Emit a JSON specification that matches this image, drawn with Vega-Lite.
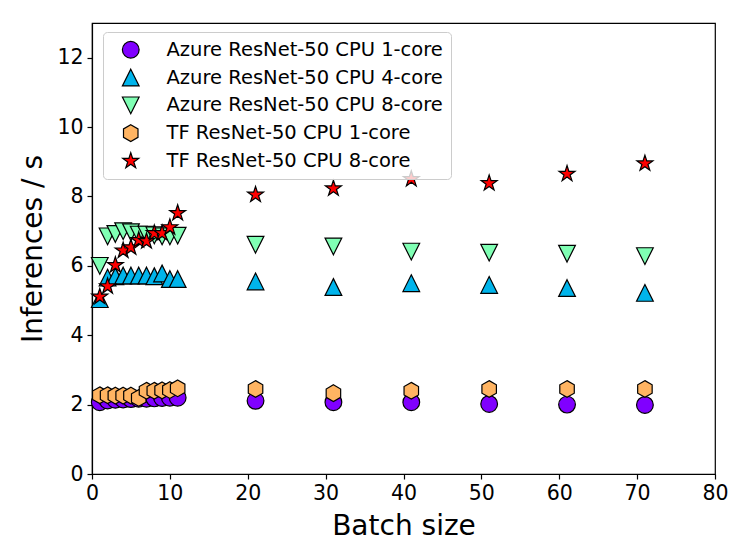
{
  "$schema": "https://vega.github.io/schema/vega-lite/v6.json",
  "autosize": "none",
  "padding": {"left": 92, "top": 23, "right": 32, "bottom": 86},
  "width": 623,
  "height": 451,
  "config": {
    "font": "DejaVu Sans",
    "view": {"stroke": "black", "strokeWidth": 1.2},
    "axis": {"grid": false, "labelFlush": false, "domainColor": "black", "tickColor": "black", "labelColor": "black", "titleColor": "black", "labelFontSize": 20.5, "titleFontSize": 28, "titleFontWeight": "normal", "tickSize": 5, "labelPadding": 4, "domainWidth": 1.2, "tickWidth": 1.2}
  },
  "data": {"values": [
    {"series": "Azure ResNet-50 CPU 1-core", "x": 1, "y": 2.07},
    {"series": "Azure ResNet-50 CPU 1-core", "x": 2, "y": 2.12},
    {"series": "Azure ResNet-50 CPU 1-core", "x": 3, "y": 2.14},
    {"series": "Azure ResNet-50 CPU 1-core", "x": 4, "y": 2.15},
    {"series": "Azure ResNet-50 CPU 1-core", "x": 5, "y": 2.16},
    {"series": "Azure ResNet-50 CPU 1-core", "x": 6, "y": 2.17},
    {"series": "Azure ResNet-50 CPU 1-core", "x": 7, "y": 2.17},
    {"series": "Azure ResNet-50 CPU 1-core", "x": 8, "y": 2.18},
    {"series": "Azure ResNet-50 CPU 1-core", "x": 9, "y": 2.19},
    {"series": "Azure ResNet-50 CPU 1-core", "x": 10, "y": 2.2},
    {"series": "Azure ResNet-50 CPU 1-core", "x": 11, "y": 2.2},
    {"series": "Azure ResNet-50 CPU 1-core", "x": 21, "y": 2.11},
    {"series": "Azure ResNet-50 CPU 1-core", "x": 31, "y": 2.07},
    {"series": "Azure ResNet-50 CPU 1-core", "x": 41, "y": 2.07},
    {"series": "Azure ResNet-50 CPU 1-core", "x": 51, "y": 2.02},
    {"series": "Azure ResNet-50 CPU 1-core", "x": 61, "y": 2.0},
    {"series": "Azure ResNet-50 CPU 1-core", "x": 71, "y": 1.99},
    {"series": "Azure ResNet-50 CPU 4-core", "x": 1, "y": 5.04},
    {"series": "Azure ResNet-50 CPU 4-core", "x": 2, "y": 5.66},
    {"series": "Azure ResNet-50 CPU 4-core", "x": 3, "y": 5.7},
    {"series": "Azure ResNet-50 CPU 4-core", "x": 4, "y": 5.72},
    {"series": "Azure ResNet-50 CPU 4-core", "x": 5, "y": 5.72},
    {"series": "Azure ResNet-50 CPU 4-core", "x": 6, "y": 5.72},
    {"series": "Azure ResNet-50 CPU 4-core", "x": 7, "y": 5.72},
    {"series": "Azure ResNet-50 CPU 4-core", "x": 8, "y": 5.7},
    {"series": "Azure ResNet-50 CPU 4-core", "x": 9, "y": 5.78},
    {"series": "Azure ResNet-50 CPU 4-core", "x": 10, "y": 5.62},
    {"series": "Azure ResNet-50 CPU 4-core", "x": 11, "y": 5.62},
    {"series": "Azure ResNet-50 CPU 4-core", "x": 21, "y": 5.55},
    {"series": "Azure ResNet-50 CPU 4-core", "x": 31, "y": 5.39},
    {"series": "Azure ResNet-50 CPU 4-core", "x": 41, "y": 5.5},
    {"series": "Azure ResNet-50 CPU 4-core", "x": 51, "y": 5.45},
    {"series": "Azure ResNet-50 CPU 4-core", "x": 61, "y": 5.36},
    {"series": "Azure ResNet-50 CPU 4-core", "x": 71, "y": 5.22},
    {"series": "Azure ResNet-50 CPU 8-core", "x": 1, "y": 6.0},
    {"series": "Azure ResNet-50 CPU 8-core", "x": 2, "y": 6.85},
    {"series": "Azure ResNet-50 CPU 8-core", "x": 3, "y": 6.92},
    {"series": "Azure ResNet-50 CPU 8-core", "x": 4, "y": 7.0},
    {"series": "Azure ResNet-50 CPU 8-core", "x": 5, "y": 6.97},
    {"series": "Azure ResNet-50 CPU 8-core", "x": 6, "y": 6.9},
    {"series": "Azure ResNet-50 CPU 8-core", "x": 7, "y": 6.9},
    {"series": "Azure ResNet-50 CPU 8-core", "x": 8, "y": 6.88},
    {"series": "Azure ResNet-50 CPU 8-core", "x": 9, "y": 6.85},
    {"series": "Azure ResNet-50 CPU 8-core", "x": 10, "y": 6.85},
    {"series": "Azure ResNet-50 CPU 8-core", "x": 11, "y": 6.87},
    {"series": "Azure ResNet-50 CPU 8-core", "x": 21, "y": 6.61},
    {"series": "Azure ResNet-50 CPU 8-core", "x": 31, "y": 6.56},
    {"series": "Azure ResNet-50 CPU 8-core", "x": 41, "y": 6.41},
    {"series": "Azure ResNet-50 CPU 8-core", "x": 51, "y": 6.38},
    {"series": "Azure ResNet-50 CPU 8-core", "x": 61, "y": 6.35},
    {"series": "Azure ResNet-50 CPU 8-core", "x": 71, "y": 6.28},
    {"series": "TF ResNet-50 CPU 1-core", "x": 1, "y": 2.27},
    {"series": "TF ResNet-50 CPU 1-core", "x": 2, "y": 2.27},
    {"series": "TF ResNet-50 CPU 1-core", "x": 3, "y": 2.26},
    {"series": "TF ResNet-50 CPU 1-core", "x": 4, "y": 2.26},
    {"series": "TF ResNet-50 CPU 1-core", "x": 5, "y": 2.26},
    {"series": "TF ResNet-50 CPU 1-core", "x": 6, "y": 2.19},
    {"series": "TF ResNet-50 CPU 1-core", "x": 7, "y": 2.4},
    {"series": "TF ResNet-50 CPU 1-core", "x": 8, "y": 2.4},
    {"series": "TF ResNet-50 CPU 1-core", "x": 9, "y": 2.41},
    {"series": "TF ResNet-50 CPU 1-core", "x": 10, "y": 2.42},
    {"series": "TF ResNet-50 CPU 1-core", "x": 11, "y": 2.47},
    {"series": "TF ResNet-50 CPU 1-core", "x": 21, "y": 2.45},
    {"series": "TF ResNet-50 CPU 1-core", "x": 31, "y": 2.33},
    {"series": "TF ResNet-50 CPU 1-core", "x": 41, "y": 2.4},
    {"series": "TF ResNet-50 CPU 1-core", "x": 51, "y": 2.45},
    {"series": "TF ResNet-50 CPU 1-core", "x": 61, "y": 2.45},
    {"series": "TF ResNet-50 CPU 1-core", "x": 71, "y": 2.45},
    {"series": "TF ResNet-50 CPU 8-core", "x": 1, "y": 5.11},
    {"series": "TF ResNet-50 CPU 8-core", "x": 2, "y": 5.41},
    {"series": "TF ResNet-50 CPU 8-core", "x": 3, "y": 6.02},
    {"series": "TF ResNet-50 CPU 8-core", "x": 4, "y": 6.44},
    {"series": "TF ResNet-50 CPU 8-core", "x": 5, "y": 6.53},
    {"series": "TF ResNet-50 CPU 8-core", "x": 6, "y": 6.74},
    {"series": "TF ResNet-50 CPU 8-core", "x": 7, "y": 6.71},
    {"series": "TF ResNet-50 CPU 8-core", "x": 8, "y": 6.94},
    {"series": "TF ResNet-50 CPU 8-core", "x": 9, "y": 6.94},
    {"series": "TF ResNet-50 CPU 8-core", "x": 10, "y": 7.11},
    {"series": "TF ResNet-50 CPU 8-core", "x": 11, "y": 7.52},
    {"series": "TF ResNet-50 CPU 8-core", "x": 21, "y": 8.05},
    {"series": "TF ResNet-50 CPU 8-core", "x": 31, "y": 8.23},
    {"series": "TF ResNet-50 CPU 8-core", "x": 41, "y": 8.5},
    {"series": "TF ResNet-50 CPU 8-core", "x": 51, "y": 8.38},
    {"series": "TF ResNet-50 CPU 8-core", "x": 61, "y": 8.65},
    {"series": "TF ResNet-50 CPU 8-core", "x": 71, "y": 8.95}
  ]},
  "mark": {"type": "point", "filled": true, "opacity": 1, "size": 280, "stroke": "black", "strokeWidth": 1.2},
  "encoding": {
    "x": {"field": "x", "type": "quantitative", "title": "Batch size", "scale": {"domain": [0, 80], "nice": false, "zero": false}, "axis": {"values": [0, 10, 20, 30, 40, 50, 60, 70, 80], "titlePadding": 9}},
    "y": {"field": "y", "type": "quantitative", "title": "Inferences / s", "scale": {"domain": [0, 13], "nice": false}, "axis": {"values": [0, 2, 4, 6, 8, 10, 12], "titlePadding": 9}},
    "color": {"field": "series", "type": "nominal", "title": null,
      "scale": {"domain": ["Azure ResNet-50 CPU 1-core", "Azure ResNet-50 CPU 4-core", "Azure ResNet-50 CPU 8-core", "TF ResNet-50 CPU 1-core", "TF ResNet-50 CPU 8-core"],
                "range": ["#8000ff", "#00b4eb", "#80ffb4", "#ffb462", "#ff0000"]},
      "legend": {"orient": "none", "legendX": 11, "legendY": 9, "labelFontSize": 19.5, "labelColor": "black", "padding": 8, "symbolOffset": 10, "labelOffset": 26, "rowPadding": 4.8, "symbolSize": 280, "symbolStrokeColor": "black", "symbolStrokeWidth": 1.2, "strokeColor": "#cccccc", "fillColor": "rgba(255,255,255,0.8)", "cornerRadius": 4, "labelLimit": 400}},
    "shape": {"field": "series", "type": "nominal", "title": null,
      "scale": {"domain": ["Azure ResNet-50 CPU 1-core", "Azure ResNet-50 CPU 4-core", "Azure ResNet-50 CPU 8-core", "TF ResNet-50 CPU 1-core", "TF ResNet-50 CPU 8-core"],
                "range": ["circle", "M0,-1L1,1L-1,1Z", "M0,1L1,-1L-1,-1Z", "M0,-1L0.866,-0.5L0.866,0.5L0,1L-0.866,0.5L-0.866,-0.5Z", "M0,-1L0.2245,-0.309L0.9511,-0.309L0.3633,0.118L0.5878,0.809L0,0.382L-0.5878,0.809L-0.3633,0.118L-0.9511,-0.309L-0.2245,-0.309Z"]}}
  }
}
